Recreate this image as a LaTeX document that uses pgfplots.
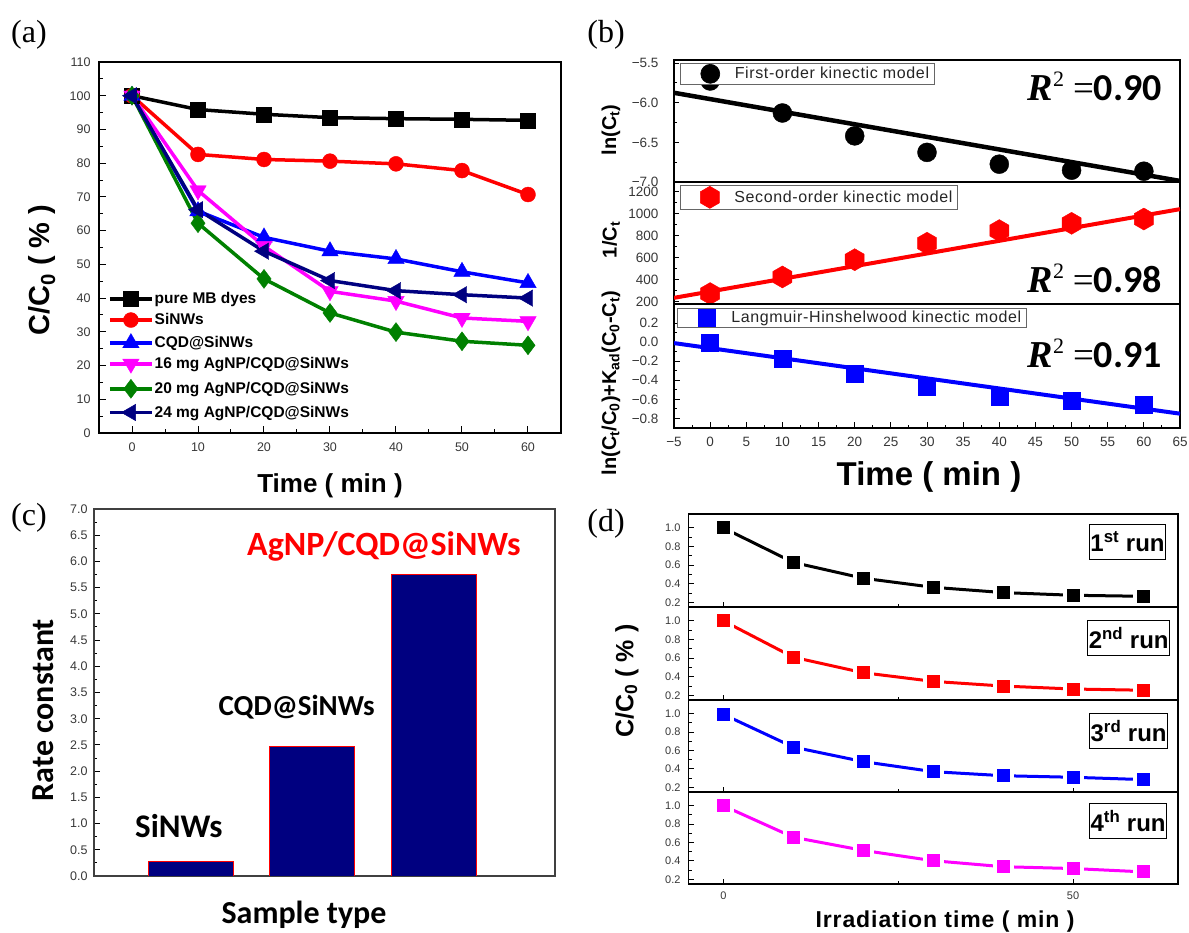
\documentclass[border=0pt]{standalone}
\usepackage{fontspec}
\setmainfont{Liberation Sans}
\newfontfamily\carlito{Carlito}
\newfontfamily\lserif{Liberation Serif}
\newfontfamily\spaced[LetterSpace=4]{Liberation Sans}
\usepackage{pgfplots}
\pgfplotsset{compat=1.18}
\definecolor{navy}{RGB}{0,0,128}
\definecolor{dgreen}{RGB}{0,128,0}
\definecolor{mag}{RGB}{255,0,255}
\definecolor{tickgray}{RGB}{55,55,55}
\newcommand{\fs}[1]{\fontsize{#1}{#1}\selectfont}
\pgfdeclareplotmark{hexagon*}{%
  \pgfpathmoveto{\pgfqpointpolar{90}{\pgfplotmarksize}}%
  \pgfpathlineto{\pgfqpointpolar{150}{\pgfplotmarksize}}%
  \pgfpathlineto{\pgfqpointpolar{210}{\pgfplotmarksize}}%
  \pgfpathlineto{\pgfqpointpolar{270}{\pgfplotmarksize}}%
  \pgfpathlineto{\pgfqpointpolar{330}{\pgfplotmarksize}}%
  \pgfpathlineto{\pgfqpointpolar{30}{\pgfplotmarksize}}%
  \pgfpathclose\pgfusepathqfillstroke}
\tikzset{runbox/.style={anchor=north east, draw=black, line width=0.8pt, inner sep=1pt, minimum width=75pt, minimum height=35pt, font=\bfseries\fs{24}}}
\pgfplotsset{
  base/.style={
    scale only axis, anchor=north west,
    axis line style={line width=1.2pt},
    tick align=inside, tick pos=left,
    major tick length=7pt, minor tick length=4pt,
    every tick/.style={black, line width=1pt},
    /pgf/number format/assume math mode=true,
    /pgf/number format/1000 sep={},
    ticklabel style={text=tickgray},
  },
  bleg/.style={
    legend style={anchor=north west, draw=black!60, line width=0.6pt, fill=white,
      inner xsep=0pt, inner ysep=1pt, font=\spaced\fs{16}\color{black!85},
      nodes={inner xsep=1pt, inner ysep=0pt}},
    legend cell align=left,
    legend image code/.code={\path[draw=none] (0pt,0pt) -- (53pt,0pt); \draw[##1] plot coordinates {(29.5pt,0pt)};},
  },
  dstyle/.style={base, width=489.5pt, xmin=-5, xmax=65, ymin=0.15, ymax=1.15,
    xtick={0,50}, minor xtick={25}, xticklabels={},
    ytick={0.2,0.4,0.6,0.8,1.0}, minor y tick num=1, axis on top,
    major tick length=5pt, minor tick length=3pt,
    yticklabel style={font=\fs{11}, xshift=-4.5pt, /pgf/number format/.cd, fixed, fixed zerofill, precision=1},
  },
}
\begin{document}
\begin{tikzpicture}
\useasboundingbox (0,0) rectangle (1189pt,932pt);

% ---------------- (a)
\begin{axis}[base, at={(99pt,870pt)}, width=462pt, height=371pt,
  xmin=-5, xmax=65, ymin=0, ymax=110,
  xtick={0,10,20,30,40,50,60}, ytick={0,10,20,30,40,50,60,70,80,90,100,110},
  minor x tick num=1, minor y tick num=1,
  ticklabel style={font=\fs{12.5}},
  xticklabel style={yshift=-6pt}, yticklabel style={xshift=-5pt},
  xlabel={Time ( min )}, xlabel style={font=\bfseries\fs{26}, at={(rel axis cs:0.5,-0.1617)}, anchor=base},
  ylabel={C/C\textsubscript{0} ( \% )}, ylabel style={font=\bfseries\fs{29}, at={(rel axis cs:-0.1234,0.439)}, anchor=center},
  legend style={at={(axis cs:-3.64,42)}, anchor=north west, draw=none, fill=none,
    font=\bfseries\fs{15.5}, inner sep=0pt, row sep=6pt, nodes={inner sep=1pt}},
  legend cell align=left,
  legend image code/.code={\draw[mark repeat=2,mark phase=2,#1] plot coordinates {(0pt,0pt) (21pt,0pt) (42pt,0pt)};},
]
\addplot[black, line width=3.5pt, mark=square*, mark size=7.5pt, mark options={line width=0.4pt}]
  coordinates {(0,100)(10,95.9)(20,94.5)(30,93.5)(40,93.2)(50,93.0)(60,92.7)};
\addplot[red, line width=3.5pt, mark=*, mark size=7.5pt, mark options={line width=0.4pt}]
  coordinates {(0,100)(10,82.6)(20,81.1)(30,80.6)(40,79.8)(50,77.8)(60,70.7)};
\addplot[blue, line width=3.5pt, mark=triangle*, mark size=9.5pt, mark options={line width=0.4pt}]
  coordinates {(0,100)(10,65.8)(20,58.0)(30,53.9)(40,51.6)(50,47.8)(60,44.5)};
\addplot[mag, line width=3.5pt, mark=triangle*, mark size=9.5pt, mark options={line width=0.4pt, rotate=180}]
  coordinates {(0,100)(10,71.9)(20,55.4)(30,42.0)(40,39.1)(50,34.1)(60,33.1)};
\addplot[dgreen, line width=3.5pt, mark=diamond*, mark size=9.5pt, mark options={line width=0.4pt}]
  coordinates {(0,100)(10,62.2)(20,45.7)(30,35.6)(40,29.9)(50,27.2)(60,26.0)};
\addplot[navy, line width=3.5pt, mark=triangle*, mark size=9.5pt, mark options={line width=0.4pt, rotate=90}]
  coordinates {(0,100)(10,66.2)(20,53.9)(30,45.2)(40,42.2)(50,41.0)(60,40.0)};
\legend{pure MB dyes, SiNWs, CQD@SiNWs, 16 mg AgNP/CQD@SiNWs, 20 mg AgNP/CQD@SiNWs, 24 mg AgNP/CQD@SiNWs}
\end{axis}

% ---------------- (b) top
\begin{axis}[base, bleg, at={(674pt,872pt)}, width=506pt, height=122pt,
  axis line style={line width=2pt},
  xmin=-5, xmax=65, ymin=-7, ymax=-5.46, xtick=\empty,
  ytick={-7,-6.5,-6,-5.5}, yticklabels={−7.0,−6.5,−6.0,−5.5}, minor y tick num=1,
  major tick length=5pt, minor tick length=3pt,
  ticklabel style={font=\fs{13.5}}, yticklabel style={xshift=-12pt},
  ylabel={ln(C\textsubscript{t})}, ylabel style={font=\bfseries\fs{20}, at={(rel axis cs:-0.1245,0.426)}, anchor=center},
  legend style={at={(rel axis cs:0.0128,0.975)}},
]
\addplot[black, line width=4.5pt, forget plot] coordinates {(-5,-5.874)(65,-6.987)};
\addplot[only marks, black, mark=*, mark size=9.5pt]
  coordinates {(0,-5.725)(10,-6.129)(20,-6.418)(30,-6.626)(40,-6.775)(50,-6.851)(60,-6.864)};
\addlegendentry{First-order kinectic model\hspace*{4pt}}
\node[anchor=base east, inner sep=0pt] at (rel axis cs:0.9644,0.672)
  {{\lserif\bfseries\itshape\fs{38}R}{\lserif\fs{22}\raisebox{14pt}{2}}\hspace{9pt}{\lserif\fs{37}=}{\carlito\bfseries\fs{38}0.90}};
\end{axis}

% ---------------- (b) middle
\begin{axis}[base, bleg, at={(674pt,750pt)}, width=506pt, height=122pt,
  axis line style={line width=2pt},
  xmin=-5, xmax=65, ymin=180, ymax=1290, xtick=\empty,
  ytick={200,400,600,800,1000,1200}, minor y tick num=1,
  major tick length=5pt, minor tick length=3pt,
  ticklabel style={font=\fs{13.5}}, yticklabel style={xshift=-12pt},
  ylabel={1/C\textsubscript{t}}, ylabel style={font=\bfseries\fs{20}, at={(rel axis cs:-0.1245,0.525)}, anchor=center},
  legend style={at={(rel axis cs:0.0119,0.975)}},
]
\addplot[red, line width=4pt, forget plot] coordinates {(-5,236)(65,1043)};
\addplot[only marks, red, mark=hexagon*, mark size=11pt]
  coordinates {(0,275)(10,426)(20,583)(30,733)(40,848)(50,914)(60,953)};
\addlegendentry{Second-order kinectic model\hspace*{4pt}}
\node[anchor=base east, inner sep=0pt] at (rel axis cs:0.9644,0.098)
  {{\lserif\bfseries\itshape\fs{38}R}{\lserif\fs{22}\raisebox{14pt}{2}}\hspace{9pt}{\lserif\fs{37}=}{\carlito\bfseries\fs{38}0.98}};
\end{axis}

% ---------------- (b) bottom
\begin{axis}[base, bleg, at={(674pt,628pt)}, width=506pt, height=124pt,
  axis line style={line width=2pt},
  xmin=-5, xmax=65, ymin=-0.9, ymax=0.4,
  xtick={-5,0,5,10,15,20,25,30,35,40,45,50,55,60,65},
  xticklabels={−5,0,5,10,15,20,25,30,35,40,45,50,55,60,65}, minor x tick num=1,
  ytick={-0.8,-0.6,-0.4,-0.2,0,0.2}, yticklabels={−0.8,−0.6,−0.4,−0.2,0.0,0.2}, minor y tick num=1,
  major tick length=6pt, minor tick length=3pt,
  ticklabel style={font=\fs{13.5}}, yticklabel style={xshift=-12pt}, xticklabel style={yshift=-6pt},
  ylabel={ln(C\textsubscript{t}/C\textsubscript{0})+K\textsubscript{ad}(C\textsubscript{0}-C\textsubscript{t})},
  ylabel style={font=\bfseries\fs{20}, at={(rel axis cs:-0.1245,0.363)}, anchor=center},
  xlabel={Time ( min )}, xlabel style={font=\bfseries\fs{33}, at={(rel axis cs:0.504,-0.46)}, anchor=base},
  legend style={at={(rel axis cs:0.006,0.968)}},
]
\addplot[blue, line width=4pt, forget plot] coordinates {(-5,-0.01)(65,-0.75)};
\addplot[only marks, blue, mark=square*, mark size=8.5pt]
  coordinates {(0,-0.007)(10,-0.174)(20,-0.33)(30,-0.47)(40,-0.575)(50,-0.615)(60,-0.654)};
\addlegendentry{Langmuir-Hinshelwood kinectic model\hspace*{4pt}}
\node[anchor=base east, inner sep=0pt] at (rel axis cs:0.9644,0.484)
  {{\lserif\bfseries\itshape\fs{38}R}{\lserif\fs{22}\raisebox{14pt}{2}}\hspace{9pt}{\lserif\fs{37}=}{\carlito\bfseries\fs{38}0.91}};
\end{axis}

% ---------------- (c)
\begin{axis}[base, at={(94pt,423pt)}, width=461pt, height=367pt,
  axis line style={line width=1.2pt, black!75},
  ybar, bar width=85pt,
  xmin=0.2, xmax=4, ymin=0, ymax=7, xtick=\empty,
  ytick={0,0.5,1,1.5,2,2.5,3,3.5,4,4.5,5,5.5,6,6.5,7}, minor y tick num=1,
  major tick length=6pt, minor tick length=3pt,
  yticklabel style={font=\fs{12.5}, xshift=-3pt, /pgf/number format/.cd, fixed, fixed zerofill, precision=1},
  ylabel={\carlito Rate constant}, ylabel style={font=\bfseries\fs{32}, at={(rel axis cs:-0.1106,0.452)}, anchor=center},
  xlabel={\carlito Sample type}, xlabel style={font=\bfseries\fs{32}, at={(rel axis cs:0.4555,-0.1305)}, anchor=base},
]
\addplot[fill=navy, draw=red, line width=0.8pt] coordinates {(1,0.27)(2,2.465)(3,5.745)};
\node[anchor=base, font=\carlito\bfseries\fs{33}] at (axis cs:0.90,0.725) {SiNWs};
\node[anchor=base, font=\carlito\bfseries\fs{29}] at (axis cs:1.87,3.07) {CQD@SiNWs};
\node[anchor=base, font=\carlito\bfseries\fs{34}, text=red] at (axis cs:2.59,6.12) {AgNP/CQD@SiNWs};
\end{axis}

% ---------------- (d)
\begin{axis}[dstyle, at={(688.5pt,418pt)}, height=93pt]
\addplot[black, line width=3pt, mark=square*, mark size=8.5pt, mark options={draw=white, fill=black, line width=4pt}]
  coordinates {(0,1.0)(10,0.629)(20,0.459)(30,0.362)(40,0.305)(50,0.276)(60,0.265)};
\node[runbox] at (rel axis cs:0.9755,0.892) {1\textsuperscript{st} run};
\end{axis}
\begin{axis}[dstyle, at={(688.5pt,325pt)}, height=93pt,
  ylabel={C/C\textsubscript{0} ( \% )}, ylabel style={font=\bfseries\fs{25}, at={(rel axis cs:-0.1256,0.204)}, anchor=center}]
\addplot[red, line width=3pt, mark=square*, mark size=8.5pt, mark options={draw=white, fill=red, line width=4pt}]
  coordinates {(0,1.0)(10,0.61)(20,0.443)(30,0.35)(40,0.30)(50,0.268)(60,0.255)};
\node[runbox] at (rel axis cs:0.9836,0.860) {2\textsuperscript{nd} run};
\end{axis}
\begin{axis}[dstyle, at={(688.5pt,232pt)}, height=92pt]
\addplot[blue, line width=3pt, mark=square*, mark size=8.5pt, mark options={draw=white, fill=blue, line width=4pt}]
  coordinates {(0,0.993)(10,0.638)(20,0.48)(30,0.371)(40,0.327)(50,0.31)(60,0.285)};
\node[runbox] at (rel axis cs:0.9796,0.859) {3\textsuperscript{rd} run};
\end{axis}
\begin{axis}[dstyle, at={(688.5pt,140pt)}, height=92pt, xticklabels={0,50},
  xticklabel style={font=\fs{11}, yshift=-4pt},
  xlabel={\spaced Irradiation time ( min )}, xlabel style={font=\bfseries\fs{23}, at={(rel axis cs:0.524,-0.47)}, anchor=base}]
\addplot[mag, line width=3pt, mark=square*, mark size=8.5pt, mark options={draw=white, fill=mag, line width=4pt}]
  coordinates {(0,1.0)(10,0.658)(20,0.515)(30,0.403)(40,0.338)(50,0.318)(60,0.282)};
\node[runbox] at (rel axis cs:0.9775,0.880) {4\textsuperscript{th} run};
\end{axis}

% panel letters
\node[font=\lserif\fs{32}] at (29pt,897pt) {(a)};
\node[font=\lserif\fs{32}] at (606pt,897pt) {(b)};
\node[font=\lserif\fs{32}] at (29pt,414pt) {(c)};
\node[font=\lserif\fs{32}] at (606pt,408pt) {(d)};
\end{tikzpicture}
\end{document}
